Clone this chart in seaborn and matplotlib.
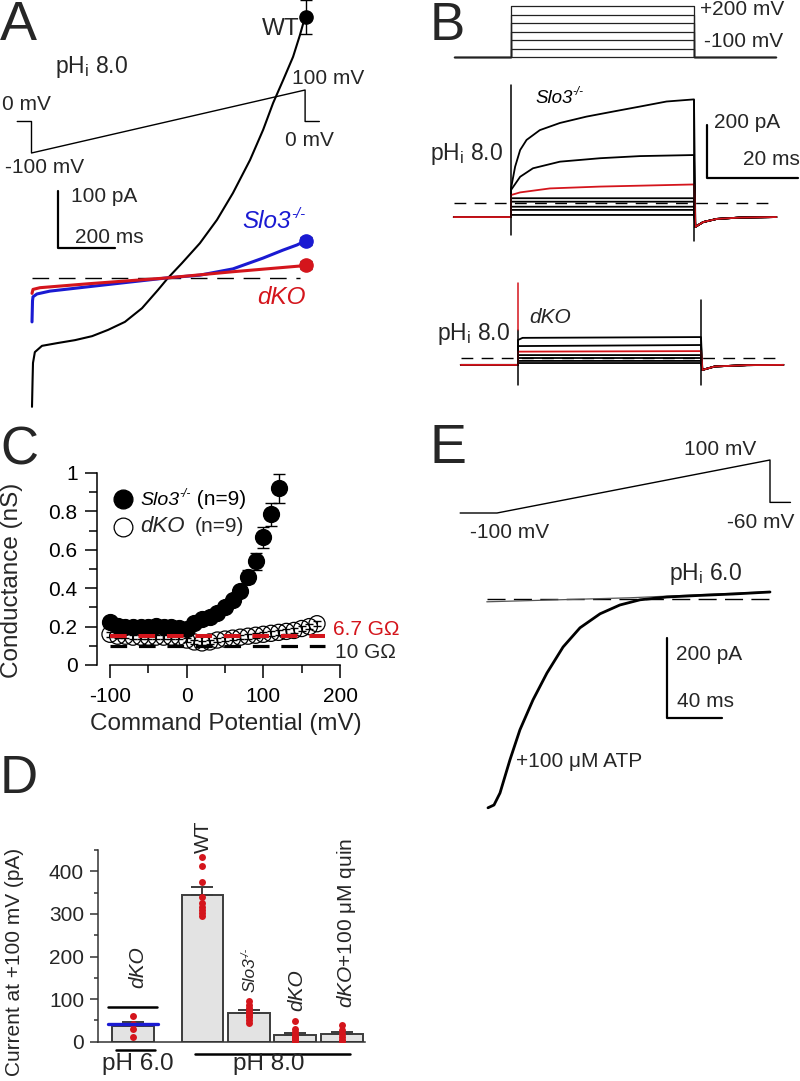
import matplotlib

matplotlib.use("Agg")
import matplotlib.pyplot as plt  # noqa: E402
import pandas as pd  # noqa: E402
import seaborn as sns  # noqa: E402
from matplotlib.lines import Line2D  # noqa: E402

# --- A: ramp protocol (ms, mV) and ramp currents, pHi 8.0 (ms, pA)
A_PROT_T = [-50, 0, 0, 960, 960, 1010]
A_PROT_V = [0, 0, -100, 100, 0, 0]
A_WT_T = [0, 2, 3.5, 10, 35, 91, 151, 211, 267, 326, 386, 442, 477, 526,
          589, 649, 705, 765, 811, 846, 881, 916, 940, 958]
A_WT_I = [-226, -179, -149, -130, -119, -114, -109, -102, -91, -77, -53, -21,
          0, 26, 61, 102, 149, 207, 260, 307, 347, 388, 426, 458]
A_SLO3_T = [0, 1.8, 3.5, 17.5, 63, 239, 470, 589, 705, 811, 881, 930, 958]
A_SLO3_I = [-77, -40, -33, -28, -23, -13, 0, 5, 16, 35, 49, 58, 65]
A_DKO_T = [0, 3.5, 28, 200, 470, 705, 940, 958]
A_DKO_I = [-27, -20, -17, -10, 0, 11, 21, 23]
A_END_MEAN = [458, 65, 23]  # WT, Slo3-/-, dKO at +100 mV
A_END_SEM = [30, 7, 7]

# --- B: step protocol (mV) and step currents (ms, pA)
B_STEP_MV = [-100, -50, 0, 50, 100, 150, 200]
B_HOLD_MV = -100
B_T_START, B_PULSE_END, B_T_END = -12.5, 40, 58
B_SLO3_HOLD = -53
B_SLO3_T1 = [0, 0.9, 2, 3.4, 6.3, 10.7, 16.5, 22.3, 28.2, 34, 40]
B_SLO3_I1 = [55, 137, 200, 238, 275, 302, 326, 345, 364, 383, 391]
B_SLO3_T2 = [0, 2, 4.8, 10.7, 19.5, 28.2, 40]
B_SLO3_I2 = [49, 99, 131, 156, 169, 177, 181]
B_SLO3_TR = [0, 2, 8.5, 19.5, 40]
B_SLO3_IR = [30, 40, 55, 62, 70]
B_SLO3_FLAT = [18, 5, -14, -26, -45]
B_SLO3_TAIL_T = [40.3, 42, 45, 50, 58]
B_SLO3_TAIL_I = [-90, -72, -60, -55, -53]
B_SLO3_ON = [-121, 445]
B_SLO3_OFF = [-143, 389]
B_DKO_HOLD = -26
B_DKO_T1 = [0, 1, 40]
B_DKO_I1 = [68, 76, 79]
B_DKO_T2 = [0, 40]
B_DKO_I2 = [45, 49]
B_DKO_TR = [0, 40]
B_DKO_IR = [24, 26]
B_DKO_FLAT = [11, 0, -11, -19]
B_DKO_TAIL_T = [40.3, 43, 50, 58]
B_DKO_TAIL_I = [-45, -32, -27, -26]
B_DKO_ON_RED = [106, 283]
B_DKO_ON = [-102, 106]
B_DKO_OFF = [-102, 219]

# --- C: conductance vs command potential
C_MV_SLO3 = [-100, -90, -80, -70, -60, -50, -40, -30, -20, -10, 0, 10, 20,
             30, 40, 50, 60, 70, 80, 90, 100, 110, 120]
C_G_SLO3 = [0.225, 0.205, 0.2, 0.2, 0.2, 0.2, 0.205, 0.2, 0.2, 0.195, 0.19,
            0.22, 0.24, 0.25, 0.27, 0.30, 0.34, 0.385, 0.46, 0.54, 0.665,
            0.785, 0.92]
C_SEM_SLO3 = [0.015, 0.012, 0.012, 0.012, 0.012, 0.012, 0.012, 0.012, 0.012,
              0.012, 0.012, 0.015, 0.015, 0.018, 0.02, 0.02, 0.022, 0.028,
              0.035, 0.045, 0.055, 0.06, 0.075]
C_MV_DKO = [-100, -90, -80, -70, -60, -50, -40, -30, -20, -10, 0, 10, 20, 30,
            40, 50, 60, 70, 80, 90, 100, 110, 120, 130, 140, 150, 160, 170]
C_G_DKO = [0.16, 0.15, 0.15, 0.145, 0.145, 0.145, 0.145, 0.145, 0.145, 0.145,
           0.13, 0.12, 0.115, 0.12, 0.13, 0.135, 0.14, 0.145, 0.15, 0.155,
           0.16, 0.165, 0.17, 0.175, 0.18, 0.19, 0.2, 0.215]
C_SEM_DKO = [0.012, 0.01, 0.01, 0.01, 0.01, 0.01, 0.01, 0.01, 0.01, 0.01,
             0.012, 0.012, 0.012, 0.012, 0.012, 0.012, 0.012, 0.012, 0.012,
             0.012, 0.012, 0.012, 0.012, 0.012, 0.012, 0.012, 0.012, 0.014]
C_LEAK_GOHM = [6.7, 10]
C_XTICKS = [-100, 0, 100, 200]
C_XTICKLABELS = ["-100", "0", "100", "200"]
C_YTICKS = [0, 0.2, 0.4, 0.6, 0.8, 1.0]
C_YTICKLABELS = ["0", "0.2", "0.4", "0.6", "0.8", "1"]

# --- D: current at +100 mV, individual cells (pA)
D_POS = [0, 1.5, 2.5, 3.5, 4.5]
D_PH6_DKO = [60, 42, 30, 12]
D_WT = [433, 413, 376, 340, 325, 316, 308, 301, 294]
D_SLO3 = [95, 85, 78, 72, 67, 62, 57, 51, 45]
D_DKO = [48, 30, 22, 16, 11, 8, 5, 3, 2]
D_QUIN = [39, 28, 18, 10, 5, 2]
D_PH6_SLO3_LEVEL = 41
D_PH6_WT_LEVEL = 81
D_YTICKS = [0, 100, 200, 300, 400]

# --- E: ramp protocol and pHi 6.0 currents (ms, pA)
E_PROT_T = [-27, 0, 200, 200, 215]
E_PROT_V = [-100, -100, 100, -60, -60]
E_CTRL_T = [-7.5, 97, 198]
E_CTRL_I = [-7, 3, 18]
E_ATP_T = [-6.6, -2.2, 2.2, 9.5, 16.8, 26.4, 36.6, 48.4, 60.8, 75.5, 90,
           104.8, 124.5, 148.7, 173, 200]
E_ATP_I = [-522, -515, -485, -402, -327, -252, -185, -120, -72, -37, -15, -2,
           5, 9, 12.5, 17.5]

RED = "#d4151c"
BLUE = "#1a1ad2"

sns.set_style("ticks")
plt.rcParams["font.family"] = ["Liberation Sans", "DejaVu Sans"]
plt.rcParams["mathtext.fontset"] = "custom"
plt.rcParams["mathtext.rm"] = "Liberation Sans"
plt.rcParams["mathtext.it"] = "Liberation Sans:italic"
plt.rcParams["mathtext.bf"] = "Liberation Sans:bold"

W, H = 800, 1081
fig = plt.figure(figsize=(W / 100, H / 100), dpi=100)
renderer = fig.canvas.get_renderer()
PT = 100 / 72  # pixels per point

PHI = r"pH$_\mathregular{i}$"


def label(x, y, s, **kw):
    kw.setdefault("fontsize", 15)
    kw.setdefault("va", "baseline")
    return fig.text(x / W, 1 - y / H, s, **kw)


def slo3(x, y, size, color="black", after=None, after_size=15):
    """Italic 'Slo3' with a raised '-/-'; x, y = left end of the baseline."""
    base = label(x, y, "Slo3", fontsize=size, style="italic", color=color)
    sx = base.get_window_extent(renderer).x1 + 0.5
    sup = label(sx, y - 0.42 * size * PT, "-/-", fontsize=0.62 * size,
                style="italic", color=color)
    if after:
        label(sup.get_window_extent(renderer).x1, y, after,
              fontsize=after_size, color=color)


def slo3_up(cx, y_bottom, size):
    """Same label turned 90 degrees, reading upwards from y_bottom."""
    base = label(cx, y_bottom, "Slo3", fontsize=size, style="italic",
                 rotation=90, ha="center", va="bottom")
    top = H - base.get_window_extent(renderer).y1
    label(cx - 0.29 * size * PT, top + 0.5, "-/-", fontsize=0.62 * size,
          style="italic", rotation=90, ha="center", va="bottom")


def trace_axes(box, origin, scale):
    """Invisible axes on a pixel box; origin = pixel of data (0, 0)."""
    l, t, r, b = box
    ax = fig.add_axes([l / W, 1 - b / H, (r - l) / W, (b - t) / H])
    ox, oy = origin
    sx, sy = scale
    ax.set_xlim((l - ox) / sx, (r - ox) / sx)
    ax.set_ylim((oy - b) / sy, (oy - t) / sy)
    ax.set_axis_off()
    ax.patch.set_visible(False)
    return ax


def trace(ax, t, i, color="black", lw=1.3, **kw):
    sns.lineplot(x=t, y=i, ax=ax, color=color, lw=lw, sort=False,
                 estimator=None, **kw)


# ---------------- A ----------------
axAv = trace_axes((0, 60, 330, 180), (31.5, 121.5), (0.285, 0.315))
trace(axAv, A_PROT_T, A_PROT_V, lw=1.0)
axA = trace_axes((0, 0, 330, 410), (32, 278), (0.285, 0.57))
axA.plot([0, 940], [0, 0], color="black", lw=1, dashes=(12, 7))
trace(axA, A_WT_T, A_WT_I, lw=1.5)
trace(axA, A_SLO3_T, A_SLO3_I, color=BLUE, lw=2.2)
trace(axA, A_DKO_T, A_DKO_I, color=RED, lw=2.2)
for m, s, c in zip(A_END_MEAN, A_END_SEM, ["black", BLUE, RED]):
    axA.errorbar([A_PROT_T[3]], [m], yerr=[s], fmt="o", color=c, ms=9.5,
                 ecolor="black", elinewidth=1, capsize=4.5, clip_on=False)
axA.plot([91, 91, 291], [153, 53, 53], color="black", lw=1.6)

label(0, 40, "A", fontsize=40)
label(55, 73, PHI + " 8.0", fontsize=16.5)
label(262, 35, "WT", fontsize=17.5)
label(2, 110, "0 mV")
label(5, 173, "-100 mV")
label(292, 84, "100 mV")
label(285, 146, "0 mV")
label(71, 202, "100 pA")
label(75, 243, "200 ms")
slo3(242, 228, 17.5, color=BLUE)
label(257, 304, "dKO", fontsize=17.5, color=RED, style="italic")

# ---------------- B ----------------
axBp = trace_axes((440, 0, 800, 65), (511, 40), (4.575, 0.17))
for v in B_STEP_MV:
    trace(axBp, [B_T_START, 0, 0, B_PULSE_END, B_PULSE_END, B_T_END],
          [B_HOLD_MV, B_HOLD_MV, v, v, B_HOLD_MV, B_HOLD_MV],
          color="#222222", lw=0.9)

axB1 = trace_axes((440, 70, 800, 255), (511, 203), (4.575, 0.265))
axB1.plot([B_T_START, B_T_END], [0, 0], color="black", lw=1, dashes=(8.5, 6))
pre = [B_T_START, 0]
for v in B_SLO3_FLAT:
    trace(axB1, pre + [0, B_PULSE_END] + B_SLO3_TAIL_T,
          [B_SLO3_HOLD] * 2 + [v, v] + B_SLO3_TAIL_I)
trace(axB1, pre + B_SLO3_T2 + B_SLO3_TAIL_T,
      [B_SLO3_HOLD] * 2 + B_SLO3_I2 + B_SLO3_TAIL_I)
trace(axB1, pre + B_SLO3_T1 + B_SLO3_TAIL_T,
      [B_SLO3_HOLD] * 2 + B_SLO3_I1 + B_SLO3_TAIL_I)
trace(axB1, pre + B_SLO3_TR + B_SLO3_TAIL_T,
      [B_SLO3_HOLD] * 2 + B_SLO3_IR + B_SLO3_TAIL_I, color=RED)
trace(axB1, [0, 0], B_SLO3_ON, lw=1.1)
trace(axB1, [B_PULSE_END, B_PULSE_END], B_SLO3_OFF, lw=1.1)
axB1.plot([42.8, 42.8, 62.8], [294, 94, 94], color="black", lw=1.6,
          clip_on=False)

axB2 = trace_axes((440, 265, 800, 400), (518, 358), (4.575, 0.265))
axB2.plot([B_T_START, B_T_END], [0, 0], color="black", lw=1, dashes=(8.5, 6))
for v in B_DKO_FLAT:
    trace(axB2, pre + [0, B_PULSE_END] + B_DKO_TAIL_T,
          [B_DKO_HOLD] * 2 + [v, v] + B_DKO_TAIL_I)
trace(axB2, pre + B_DKO_T2 + B_DKO_TAIL_T,
      [B_DKO_HOLD] * 2 + B_DKO_I2 + B_DKO_TAIL_I)
trace(axB2, pre + B_DKO_T1 + B_DKO_TAIL_T,
      [B_DKO_HOLD] * 2 + B_DKO_I1 + B_DKO_TAIL_I)
trace(axB2, pre + B_DKO_TR + B_DKO_TAIL_T,
      [B_DKO_HOLD] * 2 + B_DKO_IR + B_DKO_TAIL_I, color=RED)
trace(axB2, [0, 0], B_DKO_ON, lw=1.1)
trace(axB2, [0, 0], B_DKO_ON_RED, color=RED, lw=1.1)
trace(axB2, [B_PULSE_END, B_PULSE_END], B_DKO_OFF, lw=1.1)

label(430, 40, "B", fontsize=38)
label(700, 15, "+200 mV")
label(704, 47, "-100 mV")
slo3(535, 103, 13.5)
label(430, 160, PHI + " 8.0", fontsize=16.5)
label(714, 128, "200 pA")
label(743, 165, "20 ms")
label(529, 323, "dKO", style="italic")
label(437, 340, PHI + " 8.0", fontsize=16.5)

# ---------------- C ----------------
axC = fig.add_axes([97 / W, 1 - 665 / H, (345 - 97) / W, (665 - 473) / H])
axC.patch.set_visible(False)
axC.set_xlim(-100 - 13 / 0.7667, 200 + 5 / 0.7667)
axC.set_ylim(0, 1)
axC.errorbar(C_MV_SLO3, C_G_SLO3, yerr=C_SEM_SLO3, fmt="none", ecolor="black",
             elinewidth=1, capsize=4, zorder=2, clip_on=False)
sns.scatterplot(x=C_MV_SLO3, y=C_G_SLO3, ax=axC, color="black", s=130,
                edgecolor="black", linewidth=1, zorder=3, clip_on=False)
axC.errorbar(C_MV_DKO, C_G_DKO, yerr=C_SEM_DKO, fmt="none", ecolor="black",
             elinewidth=0.8, capsize=3, zorder=4, clip_on=False)
sns.scatterplot(x=C_MV_DKO, y=C_G_DKO, ax=axC, s=135, facecolor="none",
                edgecolor="black", linewidth=0.9, zorder=5, clip_on=False)
for r, c, lw in zip(C_LEAK_GOHM, [RED, "black"], [2.9, 2.3]):
    axC.plot([-100, 180], [1 / r, 1 / r], color=c, lw=lw,
             dashes=(12 / lw, 8.5 / lw), zorder=6, clip_on=False)
for side in ["top", "right"]:
    axC.spines[side].set_visible(False)
axC.spines["left"].set_bounds(0, 1)
axC.spines["bottom"].set_bounds(-100, 200)
for side in ["left", "bottom"]:
    axC.spines[side].set_color("black")
    axC.spines[side].set_linewidth(1.1)
axC.set_xticks(C_XTICKS)
axC.set_xticklabels(C_XTICKLABELS)
axC.set_xticks([-50, 50, 150], minor=True)
axC.set_yticks(C_YTICKS)
axC.set_yticklabels(C_YTICKLABELS)
axC.set_yticks([0.1, 0.3, 0.5, 0.7, 0.9], minor=True)
axC.tick_params(which="major", direction="out", length=9, width=1.1,
                labelsize=15, color="black", labelcolor="black")
axC.tick_params(axis="x", which="major", pad=7)
axC.tick_params(axis="y", which="major", pad=5)
axC.tick_params(which="minor", direction="out", length=6, width=1.1,
                color="black")

fig.add_artist(Line2D([123 / W], [1 - 499 / H], marker="o", ms=13.5,
                      color="black", transform=fig.transFigure))
fig.add_artist(Line2D([123 / W], [1 - 527 / H], marker="o", ms=13.5,
                      mfc="none", mec="black", mew=0.9,
                      transform=fig.transFigure))
slo3(140, 505, 14, after=" (n=9)")
label(140, 532, "dKO", fontsize=16, style="italic")
label(195, 532, "(n=9)")
label(333, 635, "6.7 GΩ", color=RED)
label(335, 658, "10 GΩ")
label(0, 465, "C", fontsize=38)
label(12, 580, "Conductance (nS)", fontsize=17.5, rotation=90, ha="center",
      va="center")
label(226, 730, "Command Potential (mV)", fontsize=17.5, ha="center")

# ---------------- D ----------------
groups = [D_PH6_DKO, D_WT, D_SLO3, D_DKO, D_QUIN]
dfD = pd.DataFrame({
    "pos": [p for p, g in zip(D_POS, groups) for _ in g],
    "pA": [v for g in groups for v in g],
})
axD = fig.add_axes([98 / W, 1 - 1041.7 / H, (365 - 98) / W,
                    (1041.7 - 850) / H])
axD.patch.set_visible(False)
sns.barplot(data=dfD, x="pos", y="pA", native_scale=True, errorbar=None,
            color="#e3e3e3", saturation=1, edgecolor="#3c3c3c",
            linewidth=1.4, width=0.9, ax=axD, zorder=2)
stats = dfD.groupby("pos")["pA"].agg(["mean", "sem"])
axD.errorbar(stats.index, stats["mean"], yerr=[[0] * len(stats), stats["sem"]],
             fmt="none", ecolor="#3c3c3c", elinewidth=1.4, capsize=8,
             capthick=1.4, zorder=3)
axD.plot([-0.54, 0.54], [D_PH6_SLO3_LEVEL] * 2, color=BLUE, lw=2.4, zorder=5)
axD.plot([-0.54, 0.52], [D_PH6_WT_LEVEL] * 2, color="black", lw=1.8, zorder=5)
sns.stripplot(data=dfD, x="pos", y="pA", native_scale=True, jitter=False,
              color=RED, size=5, ax=axD, zorder=4)
axD.plot([-0.37, 0.47], [-19.5, -19.5], color="black", lw=1.8, clip_on=False)
axD.plot([1.33, 4.67], [-28, -28], color="black", lw=1.8, clip_on=False)
axD.set_xlim(-0.75, 5.0)
axD.set_ylim(0, 450)
axD.set_xlabel("")
axD.set_ylabel("")
for side in ["top", "right"]:
    axD.spines[side].set_visible(False)
for side in ["left", "bottom"]:
    axD.spines[side].set_color("#333333")
    axD.spines[side].set_linewidth(1.1)
axD.set_yticks(D_YTICKS)
axD.set_yticklabels([str(v) for v in D_YTICKS])
axD.set_yticks([50, 150, 250, 350, 450], minor=True)
axD.tick_params(axis="x", which="both", bottom=False, labelbottom=False)
axD.tick_params(axis="y", which="major", direction="out", length=6,
                width=1.1, labelsize=15, pad=4, color="#333333")
axD.tick_params(axis="y", which="minor", direction="out", length=3,
                width=1.1, color="#333333")

label(0, 793, "D", fontsize=38)
label(15, 962, "Current at +100 mV (pA)", rotation=90, ha="center",
      va="center")
label(138, 967, "dKO", style="italic", rotation=90, ha="center", va="center")
label(203, 837, "WT", rotation=90, ha="center", va="center")
slo3_up(250, 992, 12.5)
label(297, 990, "dKO", style="italic", rotation=90, ha="center", va="center")
label(346, 923, r"$\mathit{dKO}$+100 μM quin", rotation=90, ha="center",
      va="center")
label(137.5, 1070, "pH 6.0", fontsize=17.5, ha="center")
label(269, 1070, "pH 8.0", fontsize=17.5, ha="center")

# ---------------- E ----------------
axEv = trace_axes((440, 440, 800, 530), (497, 486.5), (1.365, 0.265))
trace(axEv, E_PROT_T, E_PROT_V, lw=1.0)
axE = trace_axes((440, 540, 800, 830), (497, 599), (1.365, 0.4))
axE.plot([-7.5, 200], [0, 0], color="black", lw=1, dashes=(13, 6))
trace(axE, E_CTRL_T, E_CTRL_I, color="#555555", lw=0.9)
trace(axE, E_ATP_T, E_ATP_I, lw=2.0)
axE.plot([124.5, 124.5, 164.5], [-97.5, -297.5, -297.5], color="black", lw=1.6)

label(430, 463, "E", fontsize=40)
label(684, 455, "100 mV")
label(470, 538, "-100 mV")
label(727, 528, "-60 mV")
label(669, 580, PHI + " 6.0", fontsize=16.5)
label(676, 660, "200 pA")
label(677, 707, "40 ms")
label(516, 767, "+100 μM ATP")

fig.savefig("out.png", dpi=100)
